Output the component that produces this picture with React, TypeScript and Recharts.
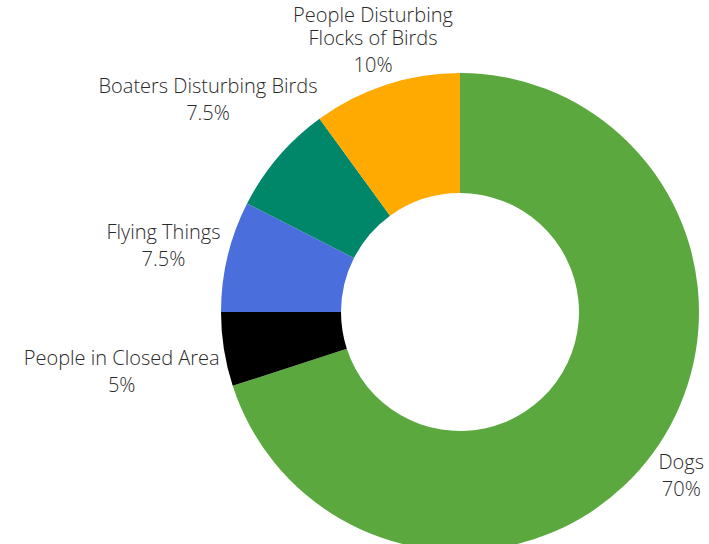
import { Cell, Pie, PieChart } from 'recharts';

const categories = [
  'Dogs',
  'People in Closed Area',
  'Flying Things',
  'Boaters Disturbing Birds',
  'People Disturbing\nFlocks of Birds',
];
const shares = [70, 5, 7.5, 7.5, 10];
const colors = ['#5aa83e', '#000000', '#4a6fdc', '#00876a', '#ffaa00'];

const data = categories.map((name, i) => ({ name, value: shares[i] }));

const RAD = Math.PI / 180;
const FONT = 20;
const CHAR_W = 9.3;

function SliceLabel(props: any) {
  const { cx, cy, midAngle, outerRadius, name, value } = props;
  const lines: string[] = String(name).split('\n');
  const cos = Math.cos(-midAngle * RAD);
  const sin = Math.sin(-midAngle * RAD);
  const r = outerRadius + 10;
  const px = cx + r * cos;
  const py = cy + r * sin;
  const longest = Math.max(...lines.map((l) => l.length), String(value).length + 1);
  const w = longest * CHAR_W;
  const h = 14 + 23 * (lines.length - 1) + 27 + 8;
  // push the label box out along the slice's mid ray until it clears the ring
  const t = Math.sqrt(((w / 2) * cos) ** 2 + ((h / 2) * sin) ** 2);
  const bx = px + cos * t + 3;
  const by = py + sin * t + 5;
  const firstBase = by - h / 2 + 18;
  return (
    <text
      x={bx}
      y={firstBase}
      textAnchor="middle"
      fill="#2a2a2a"
      fontSize={FONT}
      fontWeight={300}
      fontFamily="'Open Sans', Lato, sans-serif"
    >
      {lines.map((l, i) => (
        <tspan key={i} x={bx} y={firstBase + i * 23}>
          {l}
        </tspan>
      ))}
      <tspan x={bx} y={firstBase + (lines.length - 1) * 23 + 27}>
        {`${value}%`}
      </tspan>
    </text>
  );
}

export default function App() {
  return (
    <div style={{ position: 'absolute', left: 0, top: 0, width: 709, height: 544 }}>
      <PieChart width={709} height={544} margin={{ top: 0, right: 0, bottom: 0, left: 0 }}>
        <Pie
          data={data}
          dataKey="value"
          nameKey="name"
          cx={460}
          cy={312}
          innerRadius={119}
          outerRadius={239}
          startAngle={90}
          endAngle={-270}
          stroke="none"
          labelLine={false}
          label={SliceLabel}
          isAnimationActive={false}
        >
          {data.map((d, i) => (
            <Cell key={d.name} fill={colors[i]} />
          ))}
        </Pie>
      </PieChart>
    </div>
  );
}
